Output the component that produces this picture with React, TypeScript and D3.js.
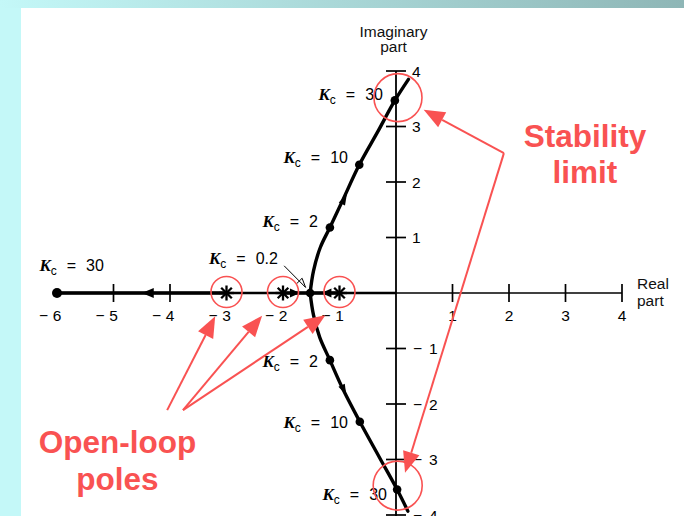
import React from 'react';
import * as d3 from 'd3';

const W = 684;
const H = 516;

// ---- data ----
const xTickValues = [-6, -5, -4, -3, -2, -1, 1, 2, 3, 4];
const yTickValues = [-4, -3, -2, -1, 1, 2, 3, 4];
const openLoopPoles = [-3, -2, -1];

// complex branches of the root locus (real, imaginary)
const upperRe = [-1.52, -1.46, -1.34, -1.17, -0.93, -0.65, -0.31, -0.02, 0.22];
const upperIm = [0, 0.4, 0.82, 1.18, 1.7, 2.31, 2.93, 3.47, 3.85];
const lowerRe = [-1.52, -1.46, -1.35, -1.17, -0.94, -0.64, -0.3, 0.02, 0.21];
const lowerIm = [0, -0.4, -0.8, -1.21, -1.73, -2.32, -2.95, -3.54, -3.93];

// real-axis branches
const realBranchStart = [-6, -2];
const realBranchEnd = [-3, -1];

// closed-loop pole markers and their Kc values
const kcValues = ['30', '0.2', '30', '10', '2', '2', '10', '30'];
const kcRe = [-6, -1.52, -0.02, -0.65, -1.17, -1.17, -0.64, 0.02];
const kcIm = [0, 0, 3.47, 2.31, 1.18, -1.21, -2.32, -3.54];

// ---- layout of annotations (data coordinates) ----
const labelEndRe = [-5.17, -2.09, -0.23, -0.85, -1.38, -1.38, -0.85, -0.16];
const labelBaseIm = [0.4, 0.52, 3.48, 2.34, 1.19, -1.33, -2.43, -3.73];

const x = d3.scaleLinear().domain([-6, 4]).range([57, 622]);
const y = d3.scaleLinear().domain([-4, 4]).range([515, 71]);

const RED = '#F95252';

function head(tx: number, ty: number, fx: number, fy: number, len: number, wid: number) {
  const a = Math.atan2(ty - fy, tx - fx);
  const bx = tx - len * Math.cos(a);
  const by = ty - len * Math.sin(a);
  const px = (-Math.sin(a) * wid) / 2;
  const py = (Math.cos(a) * wid) / 2;
  return { pts: `${tx},${ty} ${bx + px},${by + py} ${bx - px},${by - py}`, bx, by };
}

function RedArrow({ fx, fy, tx, ty }: { fx: number; fy: number; tx: number; ty: number }) {
  const h = head(tx, ty, fx, fy, 21, 17);
  return (
    <g>
      <line x1={fx} y1={fy} x2={h.bx} y2={h.by} stroke={RED} strokeWidth={2} />
      <polygon points={h.pts} fill={RED} />
    </g>
  );
}

function KcLabel({ xe, yb, v }: { xe: number; yb: number; v: string }) {
  return (
    <text x={xe} y={yb} textAnchor="end" fontFamily="Liberation Sans, Arial, sans-serif" fontSize={16} fill="#000">
      <tspan fontFamily="Liberation Serif, Times New Roman, serif" fontStyle="italic" fontWeight="bold" fontSize={17}>K</tspan>
      <tspan fontSize={12} dy={4}>c</tspan>
      <tspan dy={-4} dx={10}>=</tspan>
      <tspan dx={10}>{v}</tspan>
    </text>
  );
}

export default function App() {
  const x0 = x(0);
  const y0 = y(0);
  const line = d3
    .line<number>()
    .curve(d3.curveCatmullRom.alpha(0.5));
  const upperPath = line.x((_, i) => x(upperRe[i])).y((_, i) => y(upperIm[i]))(upperRe) || '';
  const lowerPath = line.x((_, i) => x(lowerRe[i])).y((_, i) => y(lowerIm[i]))(lowerRe) || '';

  const star = (cx: number, cy: number, r: number) =>
    [0, 45, 90, 135].map((deg) => {
      const a = (deg * Math.PI) / 180;
      return (
        <line
          key={deg}
          x1={cx - r * Math.cos(a)}
          y1={cy - r * Math.sin(a)}
          x2={cx + r * Math.cos(a)}
          y2={cy + r * Math.sin(a)}
          stroke="#000"
          strokeWidth={2.3}
        />
      );
    });

  // locus arrows
  const locusArrows = [
    { t: [-4.5, 0], f: [-4.2, 0], len: 12, wid: 10 },
    { t: [-1.7, 0], f: [-1.9, 0], len: 10, wid: 9 },
    { t: [-1.32, 0], f: [-1.1, 0], len: 10, wid: 9 },
    { t: [-0.87, 1.78], f: [-1.17, 1.18], len: 11, wid: 7 },
    { t: [-0.88, -1.84], f: [-1.17, -1.21], len: 11, wid: 7 },
  ];

  const vertex = [1.91, 2.52];
  const stabTips = [
    [0.49, 3.3],
    [0.16, -3.24],
  ];
  const olStarts = [
    [-4.05, -2.11],
    [-3.77, -2.11],
    [-3.77, -2.11],
  ];
  const olTips = [
    [-3.2, -0.42],
    [-2.37, -0.41],
    [-1.25, -0.4],
  ];

  const ptr = head(x(-1.6), y(0.1), x(-1.98), y(0.49), 9, 8);

  return (
    <svg width={W} height={H} style={{ position: 'absolute', left: 0, top: 0 }}>
      <defs>
        <linearGradient id="topbar" x1="0" x2="1" y1="0" y2="0">
          <stop offset="0" stopColor="#C4F8F8" />
          <stop offset="1" stopColor="#8EB6B6" />
        </linearGradient>
      </defs>
      <rect x={0} y={0} width={W} height={H} fill="#C4F8F8" />
      <rect x={0} y={0} width={W} height={8} fill="url(#topbar)" />
      <rect x={21} y={8} width={W - 21} height={H - 8} fill="#FFFFFF" />

      {/* axes */}
      <line x1={x0} y1={y(4)} x2={x0} y2={H} stroke="#000" strokeWidth={1.8} />
      <line x1={x(-6)} y1={y0} x2={x0} y2={y0} stroke="#000" strokeWidth={2.6} />
      <line x1={x0} y1={y0} x2={x(4)} y2={y0} stroke="#000" strokeWidth={1.6} />
      {realBranchStart.map((s, i) => (
        <line key={i} x1={x(s)} y1={y0} x2={x(realBranchEnd[i])} y2={y0} stroke="#000" strokeWidth={3.4} />
      ))}

      {/* x ticks */}
      {xTickValues
        .filter((t) => !openLoopPoles.includes(t) && t !== -6)
        .map((t) => (
          <line key={t} x1={x(t)} y1={y0 - 9} x2={x(t)} y2={y0 + 9} stroke="#000" strokeWidth={1.7} />
        ))}
      {xTickValues.map((t) => (
        <g key={'xl' + t} fontFamily="Liberation Sans, Arial, sans-serif" fontSize={15.5} fill="#000">
          <text x={x(t)} y={y0 + 28} textAnchor="middle">
            {Math.abs(t)}
          </text>
          {t < 0 && (
            <text x={x(t) - 9} y={y0 + 28} textAnchor="end">
              −
            </text>
          )}
        </g>
      ))}

      {/* y ticks */}
      {yTickValues.map((t) => (
        <g key={'y' + t} fontFamily="Liberation Sans, Arial, sans-serif" fontSize={15.5} fill="#000">
          <line x1={x0 - 10} y1={y(t)} x2={x0 + 10} y2={y(t)} stroke="#000" strokeWidth={1.7} />
          {t > 0 ? (
            <text x={x0 + 16} y={y(t) + 5.5}>
              {t}
            </text>
          ) : (
            <>
              <text x={x0 + 17} y={y(t) + 5.5}>−</text>
              <text x={x0 + 33} y={y(t) + 5.5}>{Math.abs(t)}</text>
            </>
          )}
        </g>
      ))}

      {/* axis titles */}
      <g fontFamily="Liberation Sans, Arial, sans-serif" fontSize={15.5} fill="#111">
        <text x={393.5} y={36.5} textAnchor="middle">Imaginary</text>
        <text x={393.5} y={52} textAnchor="middle">part</text>
        <text x={637} y={289}>Real</text>
        <text x={637} y={306}>part</text>
      </g>

      {/* locus curves */}
      <path d={upperPath} fill="none" stroke="#000" strokeWidth={3.4} strokeLinecap="round" />
      <path d={lowerPath} fill="none" stroke="#000" strokeWidth={3.4} strokeLinecap="round" />

      {locusArrows.map((a, i) => {
        const h = head(x(a.t[0]), y(a.t[1]), x(a.f[0]), y(a.f[1]), a.len, a.wid);
        return <polygon key={i} points={h.pts} fill="#000" />;
      })}

      {/* open-loop poles */}
      {openLoopPoles.map((p) => (
        <g key={'p' + p}>{star(x(p), y0, 7.5)}</g>
      ))}

      {/* closed-loop pole dots */}
      {kcRe.map((r, i) => (
        <circle key={'d' + i} cx={x(r)} cy={y(kcIm[i])} r={i === 0 ? 5 : 4.3} fill="#000" />
      ))}

      {/* Kc labels */}
      {kcValues.map((v, i) => (
        <KcLabel key={'k' + i} xe={x(labelEndRe[i])} yb={y(labelBaseIm[i])} v={v} />
      ))}

      {/* Kc = 0.2 pointer */}
      <line x1={x(-1.98)} y1={y(0.49)} x2={x(-1.6)} y2={y(0.1)} stroke="#000" strokeWidth={1} />
      <polyline
        points={ptr.pts.split(' ').slice(1).concat(ptr.pts.split(' ')[0]).join(' ')}
        fill="none"
        stroke="#000"
        strokeWidth={1}
      />

      {/* red annotations */}
      {openLoopPoles.map((p) => (
        <circle key={'c' + p} cx={x(p)} cy={y0 - 1} r={15.5} fill="none" stroke={RED} strokeWidth={1.6} />
      ))}
      <circle cx={x(0.035)} cy={y(3.52)} r={24} fill="none" stroke={RED} strokeWidth={1.6} />
      <circle cx={x(0.03)} cy={y(-3.47)} r={24.5} fill="none" stroke={RED} strokeWidth={1.6} />

      {stabTips.map((t, i) => (
        <RedArrow key={'s' + i} fx={x(vertex[0])} fy={y(vertex[1])} tx={x(t[0])} ty={y(t[1])} />
      ))}
      {olTips.map((t, i) => (
        <RedArrow key={'o' + i} fx={x(olStarts[i][0])} fy={y(olStarts[i][1])} tx={x(t[0])} ty={y(t[1])} />
      ))}

      <g fontFamily="Liberation Sans, Arial, sans-serif" fontWeight="bold" fontSize={31.5} fill={RED} textAnchor="middle">
        <text x={585} y={147}>Stability</text>
        <text x={585} y={183}>limit</text>
        <text x={117.5} y={453}>Open-loop</text>
        <text x={117.5} y={490}>poles</text>
      </g>
    </svg>
  );
}
